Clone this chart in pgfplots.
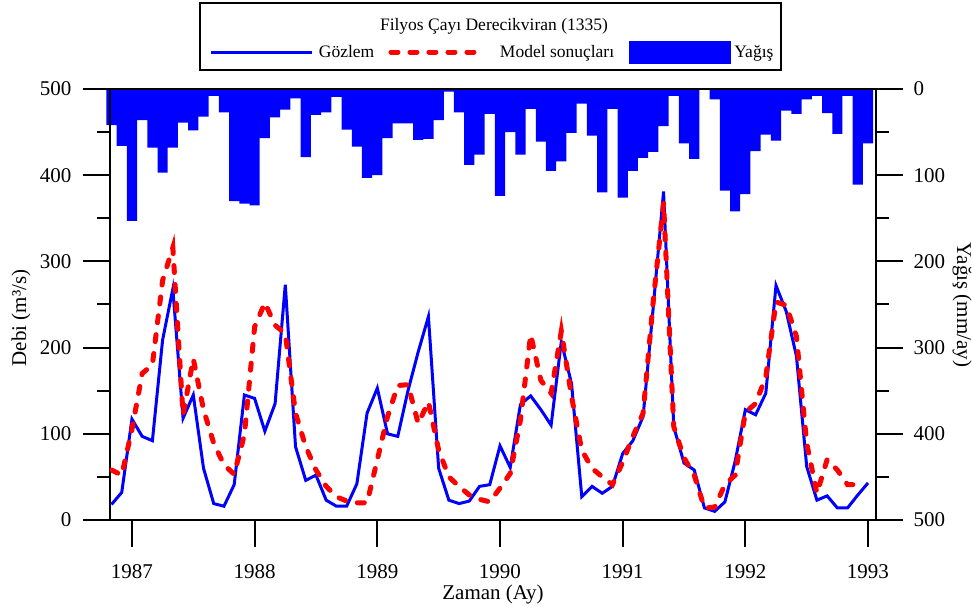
\documentclass[border=0pt]{standalone}
\usepackage{fontspec}
\setmainfont{Liberation Serif}
\usepackage{pgfplots}
\usepackage{pgfplotstable}
\pgfplotsset{compat=1.18}

% Aylık veriler: n = ay sırası (0 = Ekim 1986), debi (m3/s), model, yağış (mm/ay)
\pgfplotstableread{
n gozlem model yagis
0 18 58 42
1 32 52 66
2 117 105 153
3 97 170 36
4 92 180 68
5 209 278 97
6 268 316 68
7 118 122 39
8 145 187 48
9 60 128 32
10 19 89 8
11 16 64 27
12 41 53 130
13 145 99 133
14 141 224 135
15 103 252 57
16 135 226 33
17 273 216 24
18 85 124 11
19 46 85 79
20 52 58 30
21 23 39 27
22 16 27 9
23 16 22 47
24 42 20 67
25 124 20 103
26 153 70 100
27 100 120 57
28 97 156 40
29 150 157 40
30 195 112 59
31 236 137 58
32 60 81 36
33 23 50 3
34 19 39 27
35 22 29 88
36 39 24 76
37 41 21 29
38 86 37 124
39 61 54 50
40 134 116 76
41 144 215 23
42 128 162 61
43 110 147 95
44 207 219 84
45 158 143 51
46 27 81 17
47 39 60 54
48 31 50 120
49 39 41 23
50 77 67 126
51 92 97 95
52 120 124 80
53 248 255 73
54 381 368 43
55 108 108 8
56 66 72 63
57 58 52 81
58 14 14 0
59 10 15 12
60 21 41 118
61 68 52 142
62 128 125 122
63 122 135 72
64 147 166 53
65 272 253 60
66 242 249 25
67 190 213 29
68 62 89 12
69 23 31 8
70 28 70 28
71 14 58 52
72 14 41 8
73 29 41 111
74 43 nan 63
}\akim

\pgfplotsset{
  ortak/.style={
    at={(110pt,92pt)}, anchor=south west, scale only axis,
    width=766pt, height=431pt,
    xmin=1986.821, xmax=1993.065, ymin=0, ymax=500,
    tick align=outside, major tick length=27pt, minor tick length=13pt,
    tick style={black, line width=2pt},
    axis line style={line width=2pt},
    ytick={0,100,...,500}, minor y tick num=1,
    tick label style={font=\fontsize{21}{25}\selectfont},
    /pgf/number format/assume math mode=true,
    /pgf/number format/1000 sep={},
    label style={font=\fontsize{21}{25}\selectfont},
  },
  gozlemimge/.style={legend image code/.code={%
    \draw[##1] (0pt,0pt) -- (101pt,0pt); \path (106pt,0pt);}},
  modelimge/.style={legend image code/.code={%
    \draw[##1] (2.5pt,0pt) -- (93pt,0pt); \path (0pt,0pt) (109pt,0pt);}},
  yagisimge/.style={legend image code/.code={%
    \fill[blue] (0pt,-11pt) rectangle (101pt,11pt); \path (105pt,0pt);}},
}

\begin{document}
\begin{tikzpicture}
\useasboundingbox (0,0) rectangle (972pt,612pt);
% Yağış çubukları (sağ eksen, ters yönlü)
\begin{axis}[ortak, y dir=reverse, axis x line=none, axis y line*=right,
  yticklabel style={xshift=7pt},
  ylabel={Yağış (mm/ay)},
  ylabel style={at={(axis description cs:1.1123,0.4988)}, anchor=center, rotate=180},
  clip=false]
\addplot[ybar, bar width=0.08333, bar shift=0pt, fill=blue, draw=none]
  table[x expr=1986.8333+\thisrow{n}/12, y=yagis]{\akim};
\end{axis}
% Debi: gözlem ve model
\begin{axis}[ortak, xtick={1987,...,1993}, minor x tick num=1,
  xtick pos=left, ytick pos=left,
  yticklabel style={xshift=-8pt},
  xticklabel style={yshift=-14pt},
  xlabel={Zaman (Ay)}, ylabel={Debi (m³/s)},
  xlabel style={at={(axis description cs:0.5,-0.1717)}, anchor=center},
  ylabel style={at={(axis description cs:-0.1162,0.4687)}, anchor=center},
  legend columns=3,
  legend style={at={(axis description cs:0.1305,1.0858)}, anchor=west,
    draw=none, fill=none, inner sep=0pt, outer sep=0pt,
    font=\fontsize{17.5}{20}\selectfont, column sep=0pt,
    nodes={inner sep=0pt}},
  ]
\addplot[blue, line width=3pt, gozlemimge]
  table[x expr=1986.8333+\thisrow{n}/12, y=gozlem]{\akim};
\addlegendentry{\makebox[67pt][l]{Gözlem}}
\addplot[red, line width=5pt, line cap=round, dash pattern=on 7pt off 12pt, modelimge]
  table[x expr=1986.8333+\thisrow{n}/12, y=model]{\akim};
\addlegendentry{\makebox[129pt][l]{Model sonuçları}}
\addlegendimage{yagisimge}
\addlegendentry{Yağış}
\end{axis}
% Gösterge çerçevesi ve başlığı
\draw[line width=1.5pt] (200pt,542pt) rectangle (781pt,609pt);
\node[font=\fontsize{17.5}{20}\selectfont] at (494pt,586pt) {Filyos Çayı Derecikviran (1335)};
\end{tikzpicture}
\end{document}
